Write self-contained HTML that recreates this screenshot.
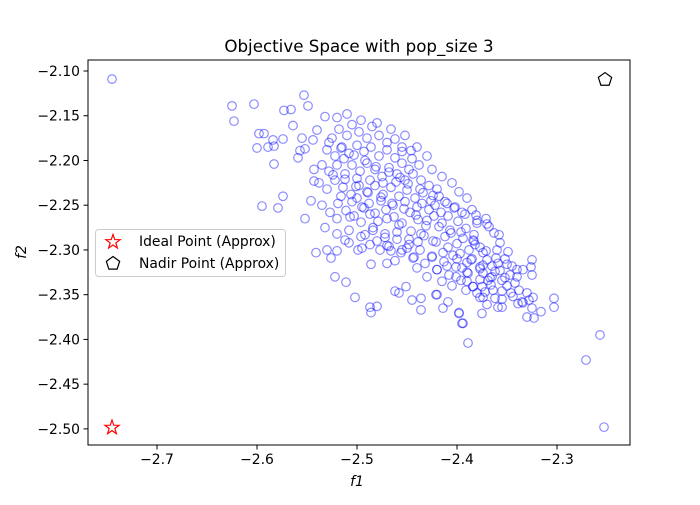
<!DOCTYPE html>
<html><head><meta charset="utf-8"><style>
body{margin:0;background:#fff}
svg text{font-family:"DejaVu Sans","Liberation Sans",sans-serif;fill:#000}
</style></head><body>
<svg id="chart" width="700" height="500" xmlns="http://www.w3.org/2000/svg">
<rect width="700" height="500" fill="#fff"/>
<text x="359" y="52" font-size="16.7" text-anchor="middle">Objective Space with pop_size 3</text>
<g id="points"></g>
<g id="axes"></g>
<text x="357" y="486" font-size="13.9" font-style="italic" text-anchor="middle">f1</text>
<text x="26" y="252" font-size="13.9" font-style="italic" text-anchor="middle" transform="rotate(-90 26 252)">f2</text>
<g>
<rect x="95.5" y="229.5" width="190" height="47" rx="3" fill="#fff" fill-opacity="0.8" stroke="#ccc"/>
<g id="legendMarks"></g>
<text x="139" y="246" font-size="13.9">Ideal Point (Approx)</text>
<text x="139" y="268" font-size="13.9">Nadir Point (Approx)</text>
</g>
</svg>
<script>
const f1Values=[-2.745,-2.257,-2.271,-2.253,-2.625,-2.623,-2.603,-2.553,-2.549,-2.573,-2.566,-2.598,-2.593,-2.564,-2.600,-2.589,-2.583,-2.584,-2.574,-2.555,-2.583,-2.574,-2.595,-2.579,-2.552,-2.546,-2.543,-2.543,-2.559,-2.557,-2.552,-2.532,-2.540,-2.544,-2.446,-2.455,-2.541,-2.522,-2.511,-2.502,-2.487,-2.480,-2.486,-2.436,-2.414,-2.398,-2.394,-2.375,-2.370,-2.359,-2.421,-2.445,-2.458,-2.389,
-2.395,-2.398,-2.355,-2.436,-2.420,-2.409,-2.391,-2.377,-2.346,-2.339,-2.334,-2.325,-2.330,-2.328,-2.324,-2.316,-2.330,-2.323,-2.303,-2.303,-2.325,-2.326,-2.325,-2.334,-2.340,-2.347,-2.340,-2.349,
-2.359,-2.357,-2.355,-2.367,-2.364,-2.381,-2.371,-2.370,-2.363,-2.357,-2.384,-2.377,-2.374,-2.370,-2.377,-2.374,-2.369,-2.375,-2.380,
-2.526,-2.530,-2.520,-2.512,-2.499,-2.487,-2.477,-2.466,-2.470,-2.462,-2.450,-2.443,-2.439,-2.425,-2.420,-2.410,-2.401,-2.390,-2.384,-2.374,-2.414,-2.404,-2.390,-2.377,-2.365,-2.462,-2.451,-2.486,
-2.525,-2.518,-2.510,-2.505,-2.498,-2.490,-2.485,-2.478,-2.470,-2.462,-2.452,
-2.530,-2.522,-2.515,-2.508,-2.500,-2.493,-2.486,-2.478,-2.470,-2.462,-2.455,-2.445,-2.438,
-2.535,-2.528,-2.520,-2.512,-2.505,-2.497,-2.490,-2.482,-2.475,-2.468,-2.460,-2.452,-2.444,-2.436,-2.428,-2.420,
-2.538,-2.530,-2.522,-2.514,-2.506,-2.498,-2.490,-2.482,-2.474,-2.466,-2.458,-2.450,-2.442,-2.434,-2.426,-2.418,-2.410,-2.402,-2.395,
-2.535,-2.527,-2.519,-2.511,-2.503,-2.495,-2.487,-2.479,-2.471,-2.463,-2.455,-2.447,-2.439,-2.431,-2.423,-2.415,-2.407,-2.399,-2.391,-2.383,
-2.532,-2.520,-2.508,-2.496,-2.484,-2.472,-2.460,-2.448,-2.436,-2.424,-2.412,-2.400,-2.388,
-2.500,-2.488,-2.476,-2.464,-2.452,-2.440,-2.428,-2.416,
-2.513,-2.500,-2.487,-2.474,-2.461,-2.448,-2.435,-2.422,-2.409,-2.396,-2.383,
-2.520,-2.510,-2.496,-2.480,-2.466,-2.455,-2.440,-2.430,-2.425,-2.415,-2.405,-2.398,-2.390,-2.385,-2.380,
-2.520,-2.508,-2.495,-2.470,-2.455,-2.440,-2.430,-2.415,-2.400,-2.395,-2.385,-2.405,-2.390,-2.360,-2.352,-2.345,-2.350,-2.338,-2.365,-2.355,
-2.528,-2.516,-2.503,-2.492,-2.481,-2.468,-2.457,-2.449,-2.437,-2.424,-2.412,-2.403,-2.392,-2.380,-2.368,-2.358,
-2.524,-2.512,-2.501,-2.489,-2.476,-2.465,-2.453,-2.441,-2.430,-2.418,-2.406,-2.394,-2.382,-2.371,-2.361,-2.350,
-2.516,-2.505,-2.493,-2.482,-2.470,-2.458,-2.446,-2.433,-2.421,-2.409,-2.397,-2.386,-2.374,-2.362,-2.352,-2.342,
-2.507,-2.496,-2.484,-2.472,-2.460,-2.448,-2.437,-2.425,-2.413,-2.401,-2.389,-2.377,-2.366,-2.355,-2.344,-2.335,
-2.492,-2.480,-2.468,-2.456,-2.444,-2.432,-2.420,-2.408,-2.396,-2.384,-2.372,-2.362];
const f2Values=[-2.109,-2.395,-2.423,-2.498,-2.139,-2.156,-2.137,-2.127,-2.139,-2.144,-2.143,-2.170,-2.170,-2.161,-2.186,-2.185,-2.184,-2.177,-2.176,-2.175,-2.204,-2.240,-2.251,-2.253,-2.265,-2.245,-2.223,-2.210,-2.197,-2.189,-2.187,-2.151,-2.166,-2.177,-2.189,-2.190,-2.303,-2.330,-2.336,-2.353,-2.364,-2.363,-2.370,-2.367,-2.365,-2.371,-2.382,-2.371,-2.361,-2.364,-2.350,-2.356,-2.348,-2.404,
-2.382,-2.370,-2.364,-2.354,-2.350,-2.358,-2.345,-2.353,-2.348,-2.360,-2.359,-2.365,-2.348,-2.356,-2.353,-2.369,-2.375,-2.376,-2.354,-2.364,-2.311,-2.319,-2.328,-2.322,-2.330,-2.328,-2.322,-2.302,
-2.315,-2.323,-2.334,-2.331,-2.345,-2.261,-2.265,-2.271,-2.281,-2.292,-2.289,-2.297,-2.303,-2.311,-2.319,-2.326,-2.334,-2.341,-2.348,
-2.309,-2.300,-2.301,-2.289,-2.300,-2.294,-2.300,-2.301,-2.315,-2.312,-2.298,-2.308,-2.291,-2.308,-2.322,-2.318,-2.330,-2.325,-2.341,-2.353,-2.303,-2.306,-2.314,-2.321,-2.330,-2.346,-2.341,-2.316,
-2.175,-2.165,-2.172,-2.160,-2.168,-2.175,-2.162,-2.172,-2.180,-2.176,-2.172,
-2.188,-2.195,-2.185,-2.192,-2.183,-2.190,-2.185,-2.195,-2.188,-2.197,-2.203,-2.198,-2.205,
-2.205,-2.212,-2.205,-2.215,-2.205,-2.212,-2.203,-2.210,-2.218,-2.208,-2.215,-2.222,-2.215,-2.222,-2.228,-2.232,
-2.225,-2.232,-2.222,-2.230,-2.238,-2.228,-2.235,-2.228,-2.238,-2.230,-2.240,-2.233,-2.242,-2.236,-2.245,-2.240,-2.248,-2.252,-2.258,
-2.250,-2.258,-2.248,-2.256,-2.262,-2.252,-2.260,-2.268,-2.255,-2.263,-2.270,-2.258,-2.266,-2.273,-2.262,-2.270,-2.278,-2.268,-2.276,-2.283,
-2.275,-2.282,-2.278,-2.285,-2.278,-2.286,-2.280,-2.288,-2.282,-2.290,-2.285,-2.293,-2.300,
-2.242,-2.248,-2.245,-2.250,-2.246,-2.252,-2.255,-2.258,
-2.198,-2.220,-2.222,-2.225,-2.224,-2.210,-2.248,-2.250,-2.262,-2.280,-2.290,
-2.152,-2.148,-2.155,-2.158,-2.165,-2.185,-2.185,-2.195,-2.210,-2.218,-2.225,-2.235,-2.242,-2.255,-2.270,
-2.265,-2.292,-2.298,-2.295,-2.300,-2.320,-2.330,-2.335,-2.310,-2.320,-2.310,-2.340,-2.335,-2.300,-2.310,-2.318,-2.340,-2.345,-2.318,-2.355,
-2.180,-2.186,-2.194,-2.200,-2.207,-2.213,-2.219,-2.226,-2.232,-2.239,-2.246,-2.253,-2.260,-2.267,-2.274,-2.283,
-2.216,-2.221,-2.229,-2.236,-2.241,-2.248,-2.254,-2.261,-2.267,-2.274,-2.281,-2.287,-2.294,-2.301,-2.309,-2.316,
-2.240,-2.246,-2.253,-2.259,-2.265,-2.272,-2.279,-2.284,-2.291,-2.297,-2.304,-2.311,-2.317,-2.324,-2.331,-2.337,
-2.263,-2.269,-2.275,-2.282,-2.288,-2.294,-2.300,-2.307,-2.313,-2.319,-2.326,-2.333,-2.339,-2.346,-2.352,-2.358,
-2.283,-2.290,-2.296,-2.303,-2.309,-2.315,-2.322,-2.328,-2.334,-2.341,-2.347,-2.354];
const idealPoint=[-2.745,-2.498];
const nadirPoint=[-2.252,-2.109];
const xTicks=[-2.7,-2.6,-2.5,-2.4,-2.3];
const xTickLabels=["−2.7","−2.6","−2.5","−2.4","−2.3"];
const yTicks=[-2.10,-2.15,-2.20,-2.25,-2.30,-2.35,-2.40,-2.45,-2.50];
const yTickLabels=["−2.10","−2.15","−2.20","−2.25","−2.30","−2.35","−2.40","−2.45","−2.50"];

const L=88,R=630,T=60,B=445,X0=-2.769,X1=-2.227,Y0=-2.518,Y1=-2.0877;
const sx=v=>L+(v-X0)/(X1-X0)*(R-L);
const sy=v=>B-(v-Y0)/(Y1-Y0)*(B-T);
const NS="http://www.w3.org/2000/svg";
function mk(tag,attrs,parent){const e=document.createElementNS(NS,tag);for(const k in attrs)e.setAttribute(k,attrs[k]);parent.appendChild(e);return e;}
const pg=document.getElementById('points');
for(let i=0;i<f1Values.length;i++){
  const c=mk('circle',{cx:sx(f1Values[i]),cy:sy(f2Values[i]),r:4.3,fill:'none',stroke:'rgba(0,0,255,0.45)','stroke-width':1.2},pg);
  
  
}
function star(cx,cy,r){let p=[];for(let k=0;k<10;k++){const a=-Math.PI/2+k*Math.PI/5;const rr=k%2?r*0.4:r;p.push((cx+rr*Math.cos(a)).toFixed(2)+','+(cy+rr*Math.sin(a)).toFixed(2));}return p.join(' ');}
function pent(cx,cy,r){let p=[];for(let k=0;k<5;k++){const a=-Math.PI/2+k*2*Math.PI/5;p.push((cx+r*Math.cos(a)).toFixed(2)+','+(cy+r*Math.sin(a)).toFixed(2));}return p.join(' ');}
const ip=mk('polygon',{points:star(sx(idealPoint[0]),sy(idealPoint[1])+0.5,7.5),fill:'none',stroke:'red','stroke-width':1.2},pg);


const np=mk('polygon',{points:pent(sx(nadirPoint[0]),sy(nadirPoint[1])+0.5,7),fill:'none',stroke:'black','stroke-width':1.2},pg);


const lm=document.getElementById('legendMarks');
const ls=mk('polygon',{points:star(113,242,7.5),fill:'none',stroke:'red','stroke-width':1.2},lm);


const lp=mk('polygon',{points:pent(113,263.5,7),fill:'none',stroke:'black','stroke-width':1.2},lm);


const ax=document.getElementById('axes');
const fr=mk('rect',{x:L,y:T,width:R-L,height:B-T,fill:'none',stroke:'#000','stroke-width':1},ax);


xTicks.forEach((v,i)=>{const x=sx(v);
  const t=mk('line',{x1:x,x2:x,y1:B,y2:B+4.5,stroke:'#000'},ax);
  
  
  const tx=mk('text',{x:x,y:B+19,'font-size':13.9,'text-anchor':'middle'},ax);tx.textContent=xTickLabels[i];
  
  
});
yTicks.forEach((v,i)=>{const y=sy(v);
  const t=mk('line',{x1:L-4.5,x2:L,y1:y,y2:y,stroke:'#000'},ax);
  
  
  const tx=mk('text',{x:L-8,y:y+5,'font-size':13.9,'text-anchor':'end'},ax);tx.textContent=yTickLabels[i];
  
  
});
</script>
</body></html>
